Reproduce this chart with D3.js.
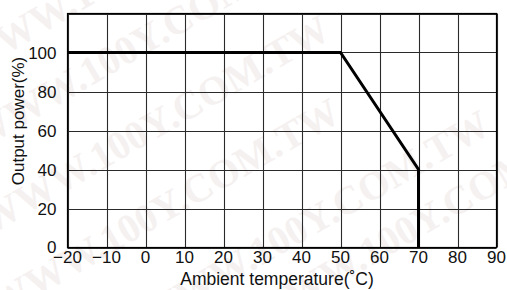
<!DOCTYPE html>
<html>
<head>
<meta charset="utf-8">
<script src="https://cdn.jsdelivr.net/npm/d3@7"></script>
<style>
  body { margin: 0; background: #fff; }
  text { font-family: "Liberation Sans", Arial, sans-serif; }
</style>
</head>
<body>
<svg id="chart" width="507" height="290"></svg>
<script>
// derating curve
var temps = [-20, 50, 70, 70];
var power = [100, 100, 40, 0];

var xTicks = [-20, -10, 0, 10, 20, 30, 40, 50, 60, 70, 80, 90];
var yTicks = [0, 20, 40, 60, 80, 100, 120];
var yLabels = [0, 20, 40, 60, 80, 100];

var svg = d3.select("#chart"),
    width = +svg.attr("width"),
    height = +svg.attr("height");

var margin = {top: 13.5, right: 10.5, bottom: 42.5, left: 67.5};

var x = d3.scaleLinear().domain([-20, 90]).range([margin.left, width - margin.right]);
var y = d3.scaleLinear().domain([0, 120]).range([height - margin.bottom, margin.top]);

// faint watermark
var marks = [[-30, 75], [-20, 150], [-10, 235], [0, 318], [150, 330], [260, 330]];
svg.append("g")
    .selectAll("text")
    .data(marks)
    .enter().append("text")
    .attr("transform", function(d) { return "translate(" + d[0] + "," + d[1] + ") rotate(-30)"; })
    .style("font-family", "'Liberation Serif', 'DejaVu Serif', serif")
    .style("font-weight", "bold")
    .style("font-size", "40px")
    .attr("fill", "#f5f1f1")
    .text("WWW.100Y.COM.TW");

// grid
svg.append("g")
    .selectAll("line")
    .data(xTicks)
    .enter().append("line")
    .attr("x1", function(d) { return Math.round(x(d)) + 0.5; })
    .attr("x2", function(d) { return Math.round(x(d)) + 0.5; })
    .attr("y1", y(0))
    .attr("y2", y(120))
    .attr("stroke", "#2a2a2a")
    .attr("stroke-width", 1.1);

svg.append("g")
    .selectAll("line")
    .data(yTicks)
    .enter().append("line")
    .attr("y1", function(d) { return Math.round(y(d)) + 0.5; })
    .attr("y2", function(d) { return Math.round(y(d)) + 0.5; })
    .attr("x1", x(-20))
    .attr("x2", x(90))
    .attr("stroke", "#2a2a2a")
    .attr("stroke-width", 1.1);

// frame
svg.append("rect")
    .attr("x", x(-20))
    .attr("y", y(120))
    .attr("width", x(90) - x(-20))
    .attr("height", y(0) - y(120))
    .attr("fill", "none")
    .attr("stroke", "#000")
    .attr("stroke-width", 1.2);

// tick labels
svg.append("g")
    .selectAll("text")
    .data(xTicks)
    .enter().append("text")
    .attr("x", function(d) { return x(d); })
    .attr("y", 263)
    .attr("text-anchor", "middle")
    .style("font-size", "17px")
    .attr("fill", "#111")
    .text(function(d) { return d < 0 ? "\u2212" + Math.abs(d) : d; });

svg.append("g")
    .selectAll("text")
    .data(yLabels)
    .enter().append("text")
    .attr("x", 56.5)
    .attr("y", function(d) { return y(d) + (d === 0 ? 5 : 6); })
    .attr("text-anchor", "end")
    .style("font-size", "17px")
    .attr("fill", "#111")
    .text(function(d) { return d; });

// axis titles
svg.append("text")
    .attr("x", 277)
    .attr("y", 284.5)
    .attr("text-anchor", "middle")
    .style("font-size", "17.5px")
    .attr("fill", "#111")
    .text("Ambient temperature(\u02DAC)");

svg.append("text")
    .attr("transform", "translate(23.5,121) rotate(-90)")
    .attr("text-anchor", "middle")
    .style("font-size", "17px")
    .attr("fill", "#111")
    .text("Output power(%)");

// curve
var line = d3.line()
    .x(function(d, i) { return x(temps[i]); })
    .y(function(d) { return y(d); });

svg.append("path")
    .datum(power)
    .attr("d", line)
    .attr("fill", "none")
    .attr("stroke", "#000")
    .attr("stroke-width", 3);
</script>
</body>
</html>
